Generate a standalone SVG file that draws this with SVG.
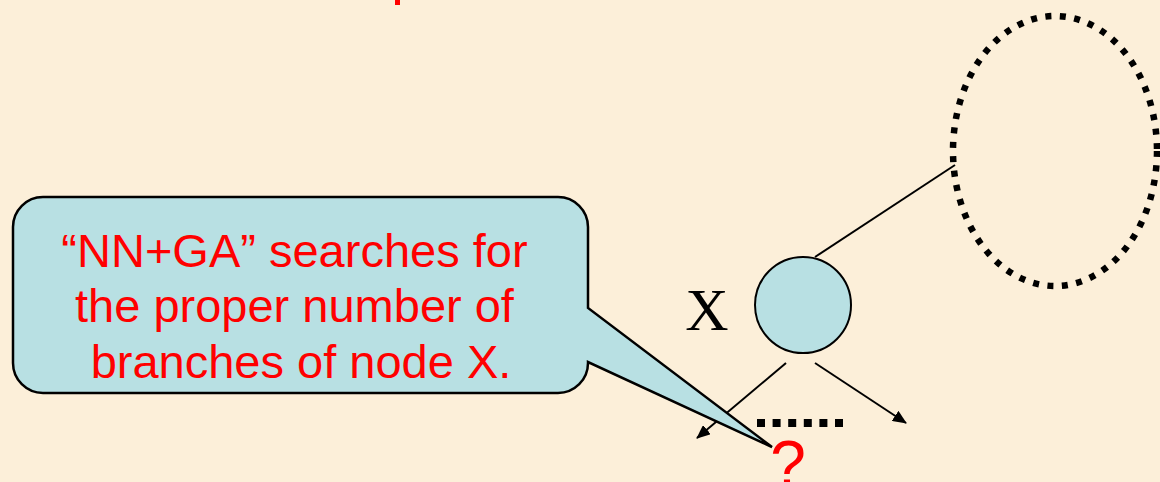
<svg xmlns="http://www.w3.org/2000/svg" width="1160" height="482" viewBox="0 0 1160 482">
<style>
.red{fill:#FF0000;font-family:"Liberation Sans",Arial,sans-serif}
.edge{stroke:#000;stroke-width:2;fill:none}
</style>
<defs>
<marker id="ah" viewBox="0 0 14 12" refX="13" refY="6" markerWidth="14" markerHeight="12" markerUnits="userSpaceOnUse" orient="auto">
<path d="M0,0 L14,6 L0,12 z" fill="#000"/>
</marker>
</defs>
<rect x="0" y="0" width="1160" height="482" fill="#FCEFD9"/>
<rect x="395" y="0" width="5" height="5" fill="#FF0000"/>
<g id="connectors">
<line class="edge" x1="786" y1="363" x2="697" y2="438" marker-end="url(#ah)"/>
<line class="edge" x1="815" y1="363" x2="906" y2="423" marker-end="url(#ah)"/>
<line class="edge" x1="815" y1="257" x2="955" y2="165"/>
<line x1="757" y1="423" x2="845" y2="423" stroke="#000" stroke-width="8" stroke-dasharray="8 7.6"/>
</g>
<g id="subtree">
<ellipse cx="1055" cy="151" rx="102" ry="135" fill="none" stroke="#000" stroke-width="6.5" stroke-dasharray="6 8.5"/>
</g>
<g id="nodeX">
<circle cx="803" cy="305" r="48" fill="#B8E0E3" stroke="#000" stroke-width="2"/>
<text x="707" y="330" font-family="'Liberation Serif','Times New Roman',serif" font-size="60" text-anchor="middle" fill="#000">X</text>
</g>
<g id="callout">
<path d="M43,197 H558 A30,30 0 0 1 588,227 V308 L772,447 L588,362 V363 A30,30 0 0 1 558,393 H43 A30,30 0 0 1 13,363 V227 A30,30 0 0 1 43,197 Z" fill="#B8E0E3" stroke="#000" stroke-width="2.5" stroke-linejoin="miter"/>
<text class="red" font-size="47" text-anchor="middle">
<tspan x="301" y="267">“NN+GA” searches for</tspan>
<tspan x="301" y="322">the proper number of</tspan>
<tspan x="301" y="378">branches of node X.</tspan>
</text>
</g>
<g id="question">
<text class="red" x="788" y="486" font-size="64" text-anchor="middle">?</text>
</g>
</svg>
